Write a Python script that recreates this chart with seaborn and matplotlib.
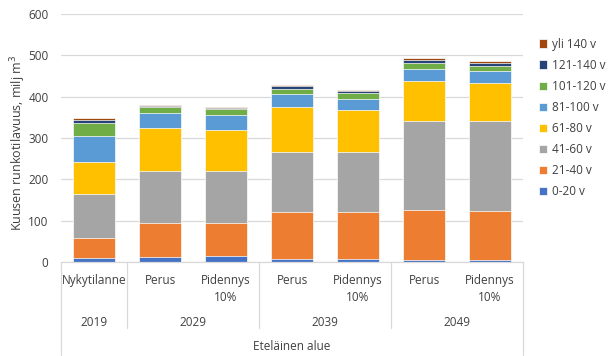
import matplotlib
matplotlib.use("Agg")
import matplotlib.pyplot as plt
import matplotlib.transforms as mtransforms
import seaborn as sns
import pandas as pd
import numpy as np

categories = ["Nykytilanne", "Perus", "Pidennys\n10%", "Perus", "Pidennys\n10%", "Perus", "Pidennys\n10%"]
years = ["2019", "2029", "2039", "2049"]
year_spans = [(0, 0), (1, 2), (3, 4), (5, 6)]
region = "Eteläinen alue"

series_names = ["0-20 v", "21-40 v", "41-60 v", "61-80 v", "81-100 v", "101-120 v", "121-140 v", "yli 140 v"]
v_0_20 = [9, 13, 15, 8, 8, 6, 6]
v_21_40 = [49, 82, 80, 113, 113, 120, 117]
v_41_60 = [106, 125, 124, 146, 145, 215, 217]
v_61_80 = [78, 103, 100, 107, 101, 96, 94]
v_81_100 = [62, 38, 37, 32, 28, 29, 27]
v_101_120 = [32, 14, 14, 13, 13, 15, 13]
v_121_140 = [8, 3, 3, 6, 5, 8, 8]
v_yli_140 = [4, 2, 2, 3, 3, 4, 4]

colors = ["#4472C4", "#ED7D31", "#A5A5A5", "#FFC000", "#5B9BD5", "#70AD47", "#264478", "#9E480E"]

series = [v_0_20, v_21_40, v_41_60, v_61_80, v_81_100, v_101_120, v_121_140, v_yli_140]

sns.set_theme(style="white")
plt.rcParams["font.family"] = ["Open Sans", "DejaVu Sans"]
plt.rcParams["mathtext.fontset"] = "dejavusans"

TXT = "#404040"
fig = plt.figure(figsize=(6.14, 3.56), dpi=100)
ax = fig.add_axes([61 / 614, 1 - 262 / 356, (523 - 61) / 614, (262 - 14) / 356])

ids = [f"c{i}" for i in range(len(categories))]
cum = np.cumsum(np.array(series), axis=0)
rows = []
for s_idx, name in enumerate(series_names):
    for c_idx, cid in enumerate(ids):
        rows.append({"cat": cid, "series": name, "top": cum[s_idx, c_idx]})
df = pd.DataFrame(rows)

# draw cumulative totals from top series down so each visible band equals its value
for s_idx in range(len(series_names) - 1, -1, -1):
    name = series_names[s_idx]
    sub = df[df["series"] == name]
    sns.barplot(data=sub, x="cat", y="top", order=ids, color=colors[s_idx],
                width=0.63, ax=ax, edgecolor="white", linewidth=0.5,
                saturation=1, label=name)

ax.set_ylim(0, 600)
ax.set_xlim(-0.5, len(categories) - 0.5)
ax.set_yticks(range(0, 601, 100))
ax.yaxis.grid(True, color="#d9d9d9", linewidth=0.9)
ax.set_axisbelow(True)
for sp in ["top", "right", "left"]:
    ax.spines[sp].set_visible(False)
ax.spines["bottom"].set_color("#d9d9d9")
ax.spines["bottom"].set_linewidth(0.9)
ax.tick_params(axis="both", length=0, labelsize=8.5, colors=TXT)
ax.tick_params(axis="y", pad=9)
ax.tick_params(axis="x", pad=8.5)
ax.set_xticks(range(len(categories)))
ax.set_xticklabels(categories, va="top", ha="center", linespacing=1.45)
ax.set_xlabel("")
ax.set_ylabel("Kuusen runkotilavuus, milj m$^3$", fontsize=9, color=TXT)
ax.yaxis.set_label_coords((28 - 61) / 462, (262 - 143) / 248)

trans = mtransforms.blended_transform_factory(ax.transData, ax.transAxes)
ax_h = 248.0
line_kw = dict(color="#d9d9d9", linewidth=0.9, clip_on=False, transform=trans)
# outer lines
for xv in [-0.5, len(categories) - 0.5]:
    ax.plot([xv, xv], [0, -(355 - 262) / ax_h], **line_kw)
# group separators
for xv in [0.5, 2.5, 4.5]:
    ax.plot([xv, xv], [0, -(328 - 262) / ax_h], **line_kw)

for yr, (a, b) in zip(years, year_spans):
    ax.text((a + b) / 2, -(322 - 262) / ax_h, yr, transform=trans, ha="center", va="center",
            fontsize=8.5, color=TXT)
ax.text((len(categories) - 1) / 2, -(347 - 262) / ax_h, region, transform=trans, ha="center",
        va="center", fontsize=8.5, color=TXT)

handles, labels = ax.get_legend_handles_labels()
order = [labels.index(n) for n in series_names[::-1]]
leg = ax.legend([handles[i] for i in order], [labels[i] for i in order],
                loc="upper left", bbox_to_anchor=(534 / 614, 1 - 33 / 356),
                bbox_transform=fig.transFigure, frameon=False, fontsize=8.5,
                handlelength=0.7, handleheight=0.7, handletextpad=0.4, labelspacing=0.68,
                borderaxespad=0)
for t in leg.get_texts():
    t.set_color(TXT)

fig.savefig("out.png", dpi=100)
